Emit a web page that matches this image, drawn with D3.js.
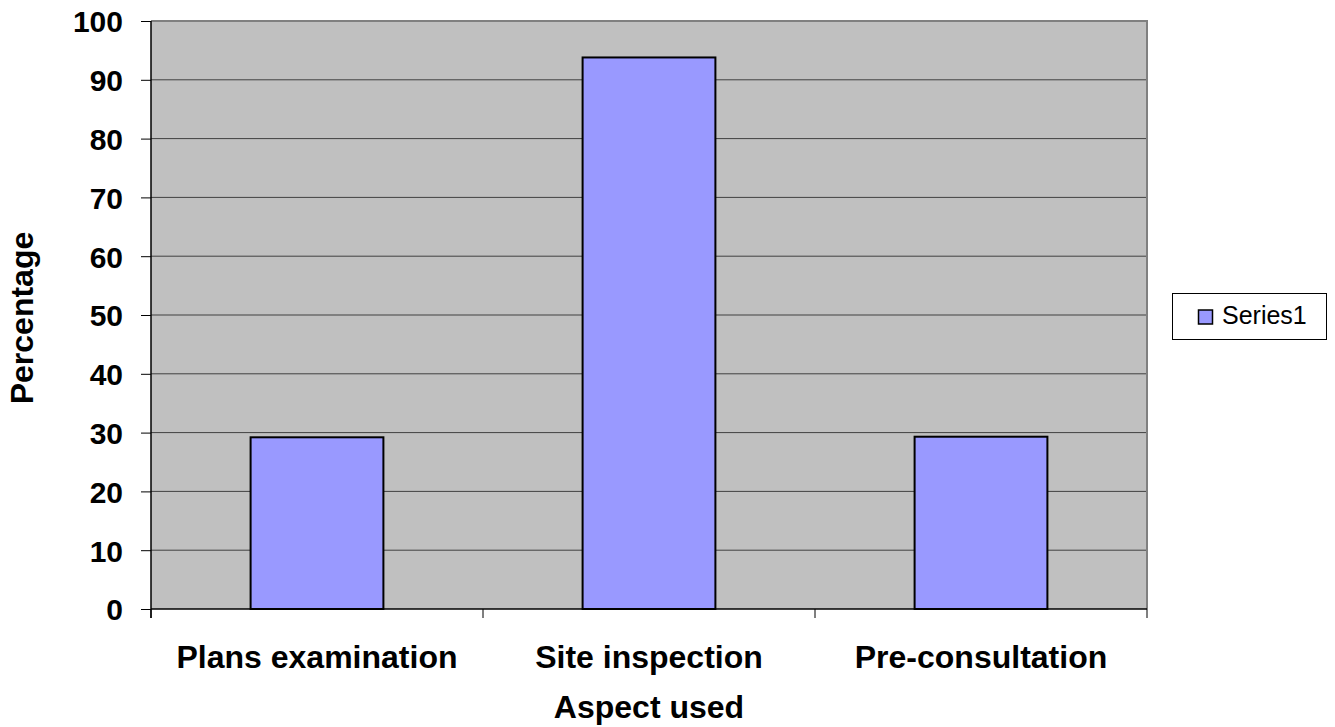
<!DOCTYPE html>
<html>
<head>
<meta charset="utf-8">
<script src="https://cdn.jsdelivr.net/npm/d3@7"></script>
<style>
  body { margin: 0; background: #fff; }
  svg { display: block; font-family: "Liberation Sans", Arial, sans-serif; }
</style>
</head>
<body>
<div id="main"></div>
<script>
// chart data
const categories = ["Plans examination", "Site inspection", "Pre-consultation"];
const series1 = [29.2, 93.8, 29.3];
const yTicks = [0, 10, 20, 30, 40, 50, 60, 70, 80, 90, 100];
const seriesName = "Series1";

function drawChart() {
    const width = 1335, height = 727;
    const plot = {left: 151, right: 1147, top: 21, bottom: 609};

    const svg = d3.select("#main").append("svg")
        .attr("width", width)
        .attr("height", height);

    const x = d3.scaleBand()
        .domain(categories)
        .range([plot.left, plot.right])
        .paddingInner(0.6)
        .paddingOuter(0.3);

    const xEdge = d3.scaleLinear()
        .domain([0, categories.length])
        .range([plot.left, plot.right]);

    const y = d3.scaleLinear()
        .domain([0, 100])
        .range([plot.bottom, plot.top]);

    // plot background
    svg.append("rect")
        .attr("x", plot.left)
        .attr("y", plot.top)
        .attr("width", plot.right - plot.left)
        .attr("height", plot.bottom - plot.top)
        .attr("fill", "#c0c0c0");

    // gridlines
    svg.append("g")
        .selectAll("line")
        .data(yTicks.filter(d => d > 0 && d < 100))
        .join("line")
        .attr("x1", plot.left)
        .attr("x2", plot.right)
        .attr("y1", d => y(d))
        .attr("y2", d => y(d))
        .attr("stroke", "#404040")
        .attr("stroke-width", 1);

    // top and right border
    svg.append("path")
        .attr("d", `M${plot.left},${plot.top}H${plot.right}V${plot.bottom}`)
        .attr("fill", "none")
        .attr("stroke", "#808080")
        .attr("stroke-width", 2);

    // bars
    svg.append("g")
        .selectAll("rect")
        .data(series1)
        .join("rect")
        .attr("x", (d, i) => x(categories[i]))
        .attr("y", d => y(d))
        .attr("width", x.bandwidth())
        .attr("height", d => y(0) - y(d))
        .attr("fill", "#9999ff")
        .attr("stroke", "#000")
        .attr("stroke-width", 2);

    // y axis
    const yAxis = svg.append("g")
        .attr("transform", `translate(${plot.left},0)`)
        .call(d3.axisLeft(y).tickValues(yTicks).tickSize(10).tickPadding(18));
    yAxis.select(".domain").attr("stroke", "#000").attr("stroke-width", 1.5)
        .attr("d", `M0,${plot.top}V${plot.bottom + 9}`);
    yAxis.selectAll(".tick line").attr("stroke", "#000");
    yAxis.selectAll("text")
        .attr("font-size", 30)
        .attr("font-weight", "bold")
        .attr("fill", "#000")
        .attr("dy", "0.36em")
        .attr("font-family", "Liberation Sans, Arial, sans-serif");

    // x axis line and category ticks
    const xAxis = svg.append("g");
    xAxis.append("line")
        .attr("x1", plot.left)
        .attr("x2", plot.right)
        .attr("y1", plot.bottom)
        .attr("y2", plot.bottom)
        .attr("stroke", "#000")
        .attr("stroke-width", 1.5);
    xAxis.selectAll(".xt")
        .data(d3.range(categories.length + 1))
        .join("line")
        .attr("x1", d => xEdge(d))
        .attr("x2", d => xEdge(d))
        .attr("y1", plot.bottom)
        .attr("y2", plot.bottom + 9)
        .attr("stroke", "#000");
    xAxis.selectAll("text")
        .data(categories)
        .join("text")
        .attr("x", d => x(d) + x.bandwidth() / 2)
        .attr("y", 668)
        .attr("text-anchor", "middle")
        .attr("font-size", 32)
        .attr("font-weight", "bold")
        .text(d => d);

    // axis titles
    svg.append("text")
        .attr("x", (plot.left + plot.right) / 2)
        .attr("y", 718)
        .attr("text-anchor", "middle")
        .attr("font-size", 32)
        .attr("font-weight", "bold")
        .text("Aspect used");

    svg.append("text")
        .attr("transform", `translate(33,${(plot.top + plot.bottom) / 2 + 3}) rotate(-90)`)
        .attr("text-anchor", "middle")
        .attr("font-size", 32)
        .attr("font-weight", "bold")
        .text("Percentage");

    // legend
    const legend = svg.append("g");
    legend.append("rect")
        .attr("x", 1172.5)
        .attr("y", 293.5)
        .attr("width", 154)
        .attr("height", 46)
        .attr("fill", "#fff")
        .attr("stroke", "#000")
        .attr("stroke-width", 1);
    legend.append("rect")
        .attr("x", 1198.5)
        .attr("y", 310)
        .attr("width", 14)
        .attr("height", 14)
        .attr("fill", "#9999ff")
        .attr("stroke", "#000")
        .attr("stroke-width", 1.5);
    legend.append("text")
        .attr("x", 1222)
        .attr("y", 324)
        .attr("font-size", 25)
        .text(seriesName);
}

document.addEventListener("DOMContentLoaded", drawChart);
</script>
</body>
</html>
